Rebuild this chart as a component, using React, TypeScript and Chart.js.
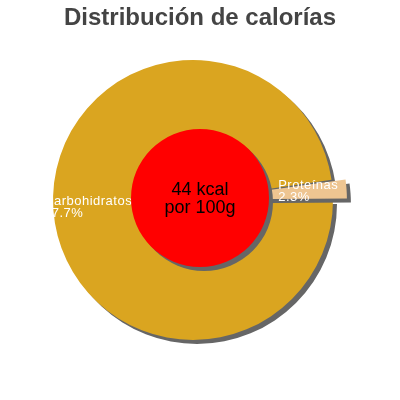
import { useEffect, useRef } from 'react';
import { Chart, registerables } from 'chart.js';
import type { Plugin } from 'chart.js';

Chart.register(...registerables);

const TITLE = 'Distribución de calorías';
const CATEGORIES = ['Carbohidratos', 'Proteínas'];
const SHARES = [97.7, 2.3];
const SLICE_COLORS = ['#DAA520', '#EEC591'];
const EXPLODE = [0, 30];
const ENERGY_KCAL = [44];
const ENERGY_LINES = [`${ENERGY_KCAL[0]} kcal`, 'por 100g'];

const FONT = '"Liberation Sans", Arial, Helvetica, sans-serif';

// grey hard shadow under every arc
const dropShadow: Plugin<'pie'> = {
  id: 'dropShadow',
  beforeDatasetsDraw(chart) {
    const ctx = chart.ctx;
    ctx.save();
    ctx.shadowColor = '#666666';
    ctx.shadowOffsetX = 4;
    ctx.shadowOffsetY = 4;
    ctx.shadowBlur = 0;
  },
  afterDatasetsDraw(chart) {
    chart.ctx.restore();
  },
};

// where each label sits, relative to its slice
const LABEL_RADIUS = [1.067, 0.61];
const LABEL_SHIFT = [-6, -5];

const sliceLabels: Plugin<'pie'> = {
  id: 'sliceLabels',
  afterDatasetsDraw(chart) {
    const ctx = chart.ctx;
    const meta = chart.getDatasetMeta(0);
    ctx.save();
    ctx.fillStyle = '#ffffff';
    ctx.font = `13px ${FONT}`;
    (ctx as any).letterSpacing = '0.5px';
    ctx.textAlign = 'left';
    ctx.textBaseline = 'alphabetic';
    meta.data.forEach((el, i) => {
      const { x, y, startAngle, endAngle, outerRadius } = (el as any).getProps(
        ['x', 'y', 'startAngle', 'endAngle', 'outerRadius'],
        true
      );
      const mid = (startAngle + endAngle) / 2;
      const r = outerRadius * LABEL_RADIUS[i];
      const lx = x + Math.cos(mid) * r;
      const ly = y + Math.sin(mid) * r + LABEL_SHIFT[i];
      ctx.fillText(CATEGORIES[i], lx, ly);
      ctx.fillText(`${SHARES[i].toFixed(1)}%`, lx, ly + 12);
    });
    ctx.restore();
  },
};

const centerText: Plugin<'pie'> = {
  id: 'centerText',
  afterDatasetsDraw(chart) {
    const ctx = chart.ctx;
    const el = chart.getDatasetMeta(0).data[0] as any;
    if (!el) return;
    const { x, y } = el.getProps(['x', 'y'], true);
    ctx.save();
    ctx.fillStyle = '#000000';
    ctx.font = `18px ${FONT}`;
    ctx.textAlign = 'center';
    ctx.textBaseline = 'alphabetic';
    ctx.fillText(ENERGY_LINES[0], x, y - 3);
    ctx.fillText(ENERGY_LINES[1], x, y + 15);
    ctx.restore();
  },
};

function CaloriePie() {
  const chartRef = useRef<HTMLCanvasElement>(null);
  const chartInstance = useRef<Chart | null>(null);

  useEffect(() => {
    if (!chartRef.current) return;
    if (chartInstance.current) chartInstance.current.destroy();
    const ctx = chartRef.current.getContext('2d');
    if (!ctx) return;

    chartInstance.current = new Chart(ctx, {
      type: 'pie',
      data: {
        labels: CATEGORIES,
        datasets: [
          {
            data: SHARES,
            backgroundColor: SLICE_COLORS,
            borderWidth: 0,
            offset: EXPLODE,
          },
        ],
      },
      options: {
        responsive: true,
        maintainAspectRatio: false,
        animation: false,
        events: [],
        rotation: 90,
        radius: 140,
        layout: { padding: { left: 0, right: 14, top: 0, bottom: 0 } },
        plugins: {
          legend: { display: false },
          tooltip: { enabled: false },
          title: { display: false },
        },
      },
      plugins: [dropShadow, sliceLabels],
    });

    return () => {
      if (chartInstance.current) {
        chartInstance.current.destroy();
        chartInstance.current = null;
      }
    };
  }, []);

  return <canvas ref={chartRef}></canvas>;
}

function EnergyDisc() {
  const chartRef = useRef<HTMLCanvasElement>(null);
  const chartInstance = useRef<Chart | null>(null);

  useEffect(() => {
    if (!chartRef.current) return;
    if (chartInstance.current) chartInstance.current.destroy();
    const ctx = chartRef.current.getContext('2d');
    if (!ctx) return;

    chartInstance.current = new Chart(ctx, {
      type: 'pie',
      data: {
        labels: ['kcal'],
        datasets: [
          {
            data: ENERGY_KCAL,
            backgroundColor: ['#FF0000'],
            borderWidth: 0,
          },
        ],
      },
      options: {
        responsive: true,
        maintainAspectRatio: false,
        animation: false,
        events: [],
        radius: 69,
        layout: { padding: { left: 0, right: 0, top: 0, bottom: 40.8 } },
        plugins: {
          legend: { display: false },
          tooltip: { enabled: false },
          title: {
            display: true,
            text: TITLE,
            color: '#444444',
            font: { family: FONT, size: 24, weight: 'bold', lineHeight: 1.2 },
            padding: { top: 4, bottom: 4 },
          },
        },
      },
      plugins: [dropShadow, centerText],
    });

    return () => {
      if (chartInstance.current) {
        chartInstance.current.destroy();
        chartInstance.current = null;
      }
    };
  }, []);

  return <canvas ref={chartRef}></canvas>;
}

const layer: React.CSSProperties = {
  position: 'absolute',
  left: 0,
  top: 0,
  width: 400,
  height: 400,
};

export default function App() {
  return (
    <div style={{ position: 'fixed', left: 0, top: 0, width: 400, height: 400, background: '#ffffff' }}>
      <div style={layer}>
        <CaloriePie />
      </div>
      <div style={layer}>
        <EnergyDisc />
      </div>
    </div>
  );
}
